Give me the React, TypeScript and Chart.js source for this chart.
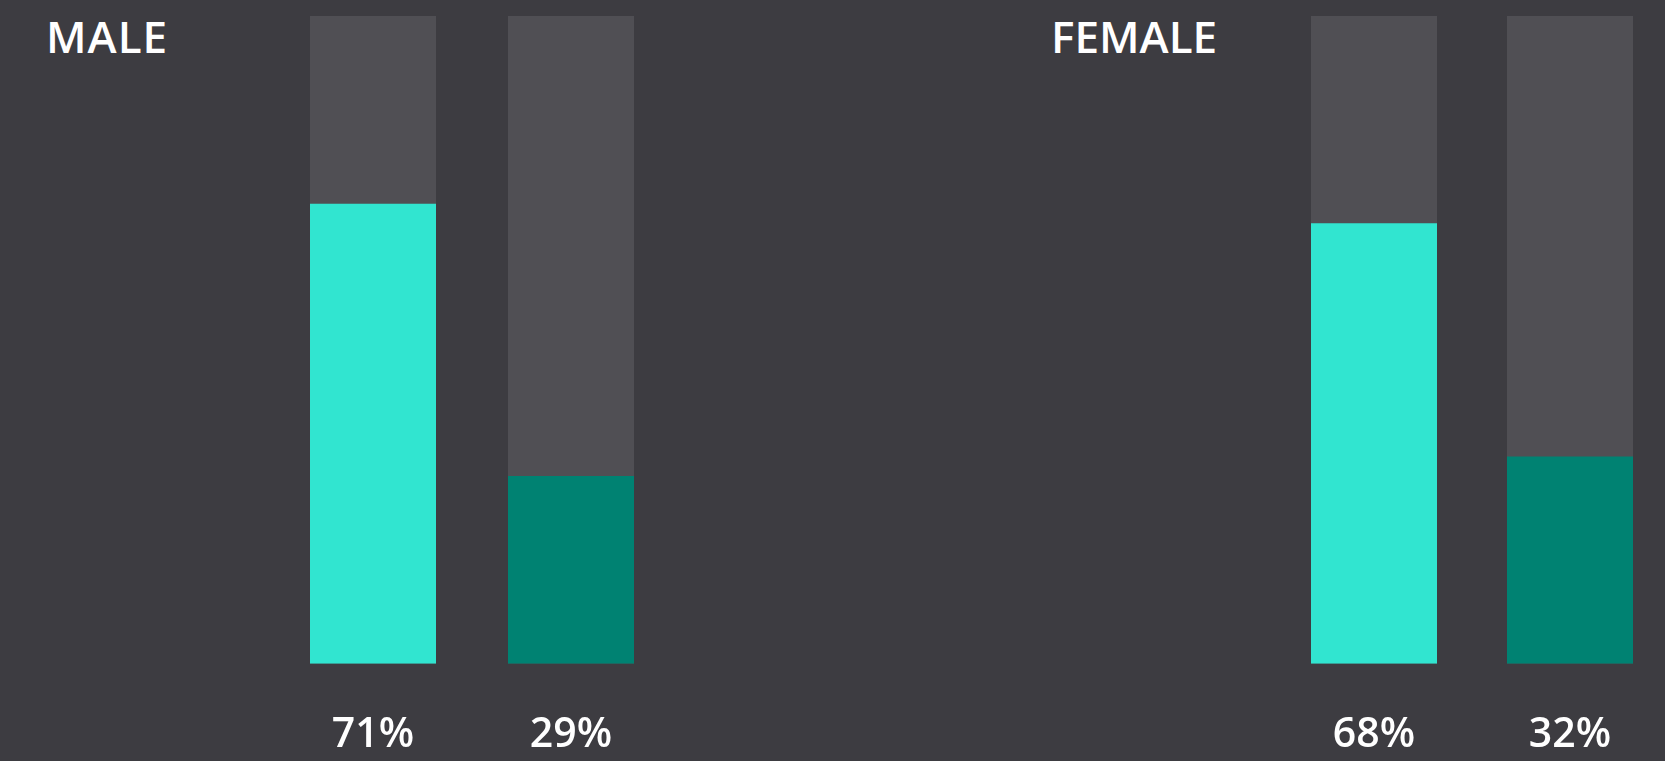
import React, { useEffect, useRef } from "react";
import { Chart, registerables } from "chart.js";

Chart.register(...registerables);

// ---- data ----
const maleTitle = "MALE";
const femaleTitle = "FEMALE";
const maleLabels = ["71%", "29%"];
const maleValues = [71, 29];
const femaleLabels = ["68%", "32%"];
const femaleValues = [68, 32];
const trackValues = [100, 100];

// ---- styles ----
const BG = "#3d3c41";
const TRACK = "#504f54";
const BAR_COLORS = ["#31e5d0", "#008272"];
const FONT = "'Open Sans', 'Noto Sans', sans-serif";
const CANVAS_H = 807;

function Panel(props: { labels: string[]; values: number[]; left: number; width: number }) {
  const ref = useRef<HTMLCanvasElement | null>(null);
  useEffect(() => {
    if (!ref.current) return;
    const cp = 126 / (props.width / 2);
    const chart = new Chart(ref.current, {
      type: "bar",
      data: {
        labels: props.labels,
        datasets: [
          {
            data: props.values,
            backgroundColor: BAR_COLORS,
            borderWidth: 0,
            grouped: false,
            order: 1,
            categoryPercentage: cp,
            barPercentage: 1,
          } as any,
          {
            data: trackValues,
            backgroundColor: TRACK,
            borderWidth: 0,
            grouped: false,
            order: 2,
            categoryPercentage: cp,
            barPercentage: 1,
          } as any,
        ],
      },
      options: {
        responsive: false,
        animation: false,
        events: [],
        layout: { padding: { top: 16, bottom: 0, left: 0, right: 0 } },
        plugins: { legend: { display: false }, tooltip: { enabled: false }, title: { display: false } },
        scales: {
          x: {
            grid: { display: false, drawTicks: false, tickLength: 0 },
            border: { display: false },
            ticks: {
              color: "#ffffff",
              padding: 47,
              font: { family: FONT, size: 41, weight: "600" as any },
              maxRotation: 0,
            },
          },
          y: { display: false, min: 0, max: 100 },
        },
      },
    });
    return () => chart.destroy();
  }, []);
  return (
    <canvas
      ref={ref}
      width={props.width}
      height={CANVAS_H}
      style={{ position: "absolute", left: props.left, top: 0, width: props.width, height: CANVAS_H }}
    />
  );
}

export default function App() {
  useEffect(() => {
    document.body.style.margin = "0";
    document.body.style.overflow = "hidden";
    document.body.style.background = BG;
  }, []);
  const titleStyle: React.CSSProperties = {
    position: "absolute",
    top: 14,
    color: "#ffffff",
    fontFamily: FONT,
    fontWeight: 600,
    fontSize: 44,
    lineHeight: 1,
    whiteSpace: "nowrap",
  };
  return (
    <div style={{ position: "relative", width: 1665, height: 761, background: BG, overflow: "hidden" }}>
      <div style={{ ...titleStyle, left: 46, letterSpacing: 1 }}>{maleTitle}</div>
      <div style={{ ...titleStyle, left: 1051 }}>{femaleTitle}</div>
      <Panel labels={maleLabels} values={maleValues} left={274} width={396} />
      <Panel labels={femaleLabels} values={femaleValues} left={1276} width={392} />
    </div>
  );
}
